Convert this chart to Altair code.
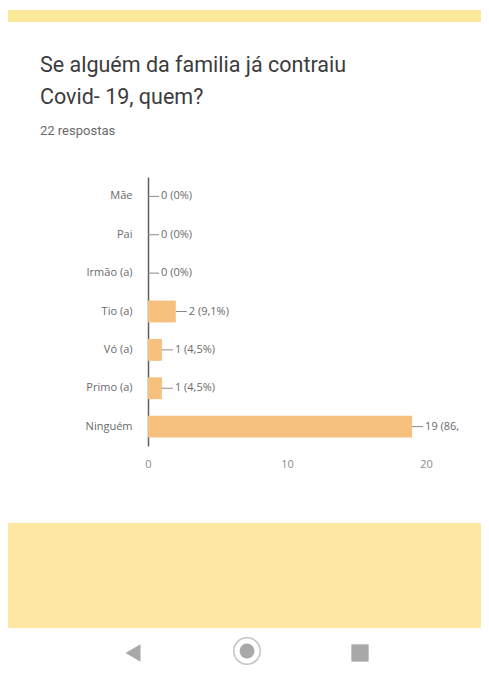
import altair as alt
import pandas as pd

categories = ["Mãe", "Pai", "Irmão (a)", "Tio (a)", "Vó (a)", "Primo (a)", "Ninguém"]
counts = [0, 0, 0, 2, 1, 1, 19]
labels = ["0 (0%)", "0 (0%)", "0 (0%)", "2 (9,1%)", "1 (4,5%)", "1 (4,5%)", "19 (86,4%)"]
x_ticks = [0, 10, 20]

title_lines = ["Se alguém da familia já contraiu", "Covid- 19, quem?"]
subtitle = "22 respostas"

df = pd.DataFrame({"cat": categories, "count": counts, "label": labels})

y_enc = alt.Y("cat:N", sort=categories, title=None,
              scale=alt.Scale(paddingInner=0.43, paddingOuter=0.22),
              axis=alt.Axis(ticks=False, domain=True, domainColor="#5f5f5f",
                            domainWidth=1.5, labelPadding=16, labelFontSize=11,
                            labelColor="#6a6a6a", labelFont="Open Sans"))
x_enc = alt.X("count:Q", title=None,
              scale=alt.Scale(domain=[0, 20], nice=False),
              axis=alt.Axis(values=x_ticks, grid=False, ticks=False, domain=False,
                            labelFlush=False,
                            labelPadding=12, labelFontSize=11, labelColor="#8a8a8a",
                            labelFont="Open Sans"))

# decorative page elements of the screenshot (yellow strips, phone nav buttons)
deco = pd.DataFrame({"k": [0]})
bottom_band = alt.Chart(deco).mark_rect(color="#fde7a2").encode(
    x=alt.value(-141), x2=alt.value(335), y=alt.value(346), y2=alt.value(451))
top_band = alt.Chart(deco).mark_rect(color="#fbe99a").encode(
    x=alt.value(-141), x2=alt.value(335), y=alt.value(-167), y2=alt.value(-155))
nav_back = alt.Chart(deco).mark_point(shape="triangle-left", filled=True, color="#a8a8a8",
                                      size=300, opacity=1).encode(
    x=alt.value(-15), y=alt.value(476))
nav_ring = alt.Chart(deco).mark_point(shape="circle", filled=False, color="#c4c4c4",
                                      size=700, strokeWidth=1.5, opacity=1).encode(
    x=alt.value(99), y=alt.value(474))
nav_dot = alt.Chart(deco).mark_point(shape="circle", filled=True, color="#a8a8a8",
                                     size=220, opacity=1).encode(
    x=alt.value(99), y=alt.value(474))
nav_square = alt.Chart(deco).mark_point(shape="square", filled=True, color="#a8a8a8",
                                        size=300, opacity=1).encode(
    x=alt.value(212), y=alt.value(476))

bars = alt.Chart(df).mark_bar(color="#f6c07f").encode(x=x_enc, y=y_enc)
leaders = alt.Chart(df).mark_rule(color="#8a8a8a", strokeWidth=1, x2Offset=11).encode(
    x="count:Q", x2="count:Q", y=alt.Y("cat:N", sort=categories))
texts = alt.Chart(df).transform_filter("datum.count < 10").mark_text(
    align="left", baseline="middle", dx=13, fontSize=11,
    color="#6a6a6a", font="Open Sans").encode(
    x="count:Q", y=alt.Y("cat:N", sort=categories), text="label:N")
# the long label is cut off by the screen edge in the screenshot
texts_cut = alt.Chart(df).transform_filter("datum.count >= 10").mark_text(
    align="left", baseline="middle", dx=13, fontSize=11,
    color="#6a6a6a", font="Open Sans", limit=37, ellipsis="\u200b").encode(
    x="count:Q", y=alt.Y("cat:N", sort=categories), text="label:N")

chart = (bottom_band + top_band + nav_back + nav_ring + nav_dot + nav_square
         + bars + leaders + texts + texts_cut).properties(
    width=278, height=269,
    title=alt.TitleParams(text=title_lines, subtitle=subtitle, anchor="start",
                          frame="group", dx=-108, offset=-128, fontSize=21.5,
                          lineHeight=32, font="Roboto", fontWeight="normal",
                          color="#3c3c3c", subtitleFontSize=13,
                          subtitleFont="Roboto", subtitleColor="#6a6a6a",
                          subtitlePadding=17),
    autosize=alt.AutoSizeParams(type="none"),
    padding={"left": 140, "top": 169, "right": 55, "bottom": 221},
    background="white",
).configure_view(stroke=None)

chart.save("out.html", embed_options={"renderer": "svg", "actions": False})
